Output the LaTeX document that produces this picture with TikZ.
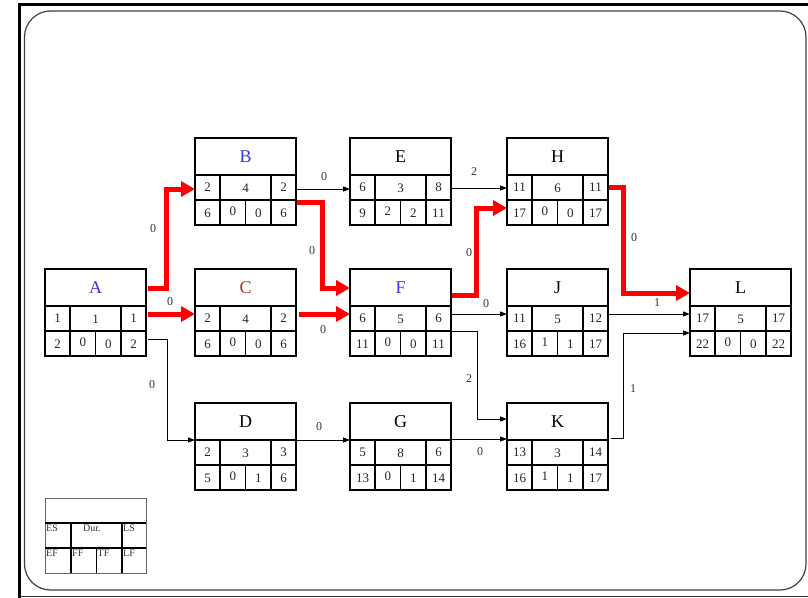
\documentclass[tikz,border=0pt]{standalone}
\usepackage{fontspec}
\setmainfont{Liberation Serif}
\usetikzlibrary{arrows.meta,calc}
\definecolor{nblue}{RGB}{55,55,215}
\definecolor{nred}{RGB}{180,45,35}
\tikzset{
  actbox/.style={draw=black, line width=2.4pt, minimum width=101pt, minimum height=87pt, inner sep=0pt, outer sep=0pt, anchor=north west},
  cellline/.style={draw=black, line width=1.9pt},
  hdr/.style={font=\fontsize{18}{20}\selectfont, inner sep=0pt},
  num/.style={font=\fontsize{13}{15}\selectfont, text=black!85, inner sep=0pt},
  lab/.style={font=\fontsize{12}{14}\selectfont, text=black!80, inner sep=0pt},
  leg/.style={font=\fontsize{10}{12}\selectfont, text=black!80, inner sep=0pt, anchor=north west},
  crit/.style={draw=red, line width=5pt, line join=miter, -{Triangle[length=14pt,width=15pt]}},
  norm/.style={draw=black, line width=1pt, -{Triangle[length=7pt,width=5pt]}},
}
\begin{document}
\begin{tikzpicture}[x=1pt,y=-1pt]
\path[use as bounding box] (0,0) rectangle (808,597);
\clip (0,0) rectangle (808,597);
% frames
\draw[line width=2.6pt, black] (19.5,600) -- (19.5,4.5) -- (815,4.5);
\draw[line width=1.4pt, black!80] (19.5,596.5) -- (815,596.5);
\draw[line width=1.2pt, black!75, rounded corners=26pt] (24.5,11) rectangle (806,590);
% activity boxes
\foreach \n/\x/\y/\lab/\a/\b/\c/\d/\e/\f/\g in {
  A/45/269/{\color{nblue}A}/1/1/1/2/0/0/2,
  B/195/138/{\color{nblue}B}/2/4/2/6/0/0/6,
  C/195/269/{\color{nred}C}/2/4/2/6/0/0/6,
  D/195/403/D/2/3/3/5/0/1/6,
  E/350/138/E/6/3/8/9/2/2/11,
  F/350/269/{\color{nblue}F}/6/5/6/11/0/0/11,
  G/350/403/G/5/8/6/13/0/1/14,
  H/507/138/H/11/6/11/17/0/0/17,
  J/507/269/J/11/5/12/16/1/1/17,
  K/507/403/K/13/3/14/16/1/1/17,
  L/690/269/L/17/5/17/22/0/0/22}{
  \draw[cellline] (\x,\y+37) -- ++(101,0) (\x,\y+62) -- ++(101,0)
     (\x+25,\y+37) -- ++(0,50) (\x+76,\y+37) -- ++(0,50)
     (\x+50.5,\y+62) -- ++(0,25);
  \node[actbox] (\n) at (\x,\y) {};
  \node[hdr] (\n-name) at (\x+50.5,\y+18.5) {\lab};
  \node[num] (\n-es) at (\x+12.5,\y+49.5) {\a};
  \node[num] (\n-du) at (\x+50.5,\y+50.5) {\b};
  \node[num] (\n-ls) at (\x+88.5,\y+49) {\c};
  \node[num] (\n-ef) at (\x+12.5,\y+75) {\d};
  \node[num] (\n-ff) at (\x+37.75,\y+73) {\e};
  \node[num] (\n-tf) at (\x+63.25,\y+75) {\f};
  \node[num] (\n-lf) at (\x+88.5,\y+75) {\g};
}
% legend
\node[draw=black!60, line width=0.8pt, minimum width=101pt, minimum height=75pt, inner sep=0pt, outer sep=0pt, anchor=north west] (legend) at (45,498) {};
\draw[cellline, line width=1.5pt] (45,523) -- (146,523) (45,548) -- (146,548)
   (71,523) -- (71,573) (122,523) -- (122,573) (96.5,548) -- (96.5,573);
\node[leg] (lg-es) at (46,525) {ES};
\node[leg] (lg-du) at (83,525) {Dur.};
\node[leg] (lg-ls) at (123,525) {LS};
\node[leg] (lg-ef) at (46,550) {EF};
\node[leg] (lg-ff) at (72,550) {FF};
\node[leg] (lg-tf) at (97.5,550) {TF};
\node[leg] (lg-lf) at (123,550) {LF};
% connectors
\draw[crit] ($(A.north east)+(2,19)$) -- ($(A.north east)+(20,19)$) |- ($(B.north west)+(0,51)$);
\draw[crit] ($(A.north east)+(2,45)$) -- ($(C.north west)+(0,45)$);
\draw[norm] ($(A.north east)+(2,70)$) -- ($(A.north east)+(21,70)$) |- ($(D.north west)+(0,37)$);
\draw[norm] ($(B.north east)+(0,51)$) -- ($(E.north west)+(0,51)$);
\draw[crit] ($(B.north east)+(1,64)$) -- ($(B.north east)+(26,64)$) |- ($(F.north west)+(0,19)$);
\draw[crit] ($(C.north east)+(3,45)$) -- ($(F.north west)+(0,45)$);
\draw[norm] ($(E.north east)+(0,50)$) -- ($(H.north west)+(0,50)$);
\draw[crit] ($(F.north east)+(1,26)$) -- ($(F.north east)+(25,26)$) |- ($(H.north west)+(0,70)$);
\draw[norm] ($(F.north east)+(0,45)$) -- ($(J.north west)+(0,45)$);
\draw[norm] ($(F.north east)+(0,62)$) -- ($(F.north east)+(26,62)$) |- ($(K.north west)+(0,16)$);
\draw[norm] ($(D.north east)+(0,37)$) -- ($(G.north west)+(0,37)$);
\draw[norm] ($(G.north east)+(0,36)$) -- ($(K.north west)+(0,36)$);
\draw[crit] ($(H.north east)+(1,49)$) -- ($(H.north east)+(15,49)$) |- ($(L.north west)+(0,24)$);
\draw[norm] ($(J.north east)+(0,45)$) -- ($(L.north west)+(0,45)$);
\draw[norm] ($(K.north east)+(3,35)$) -- ($(K.north east)+(15,35)$) |- ($(L.north west)+(0,64)$);
% connector labels
\node[lab] (l-ab) at (153,229) {0};
\node[lab] (l-ac) at (170,302) {0};
\node[lab] (l-ad) at (152,385) {0};
\node[lab] (l-be) at (324,177) {0};
\node[lab] (l-bf) at (312,251) {0};
\node[lab] (l-cf) at (323,330) {0};
\node[lab] (l-eh) at (474,172) {2};
\node[lab] (l-fh) at (469,253) {0};
\node[lab] (l-fj) at (486,304) {0};
\node[lab] (l-fk) at (469,379) {2};
\node[lab] (l-dg) at (319,427) {0};
\node[lab] (l-gk) at (480,452) {0};
\node[lab] (l-hl) at (634,238) {0};
\node[lab] (l-jl) at (657,303) {1};
\node[lab] (l-kl) at (633,389) {1};
\end{tikzpicture}
\end{document}
